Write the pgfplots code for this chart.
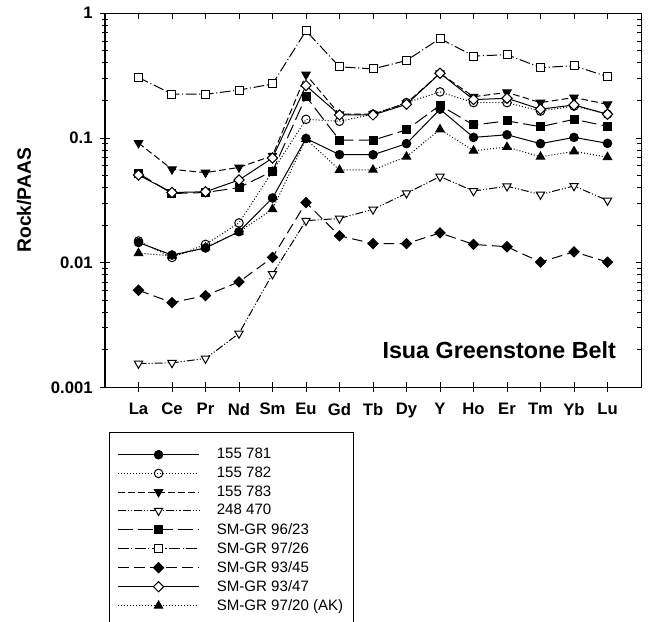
\documentclass[border=0pt]{standalone}
\usepackage{fontspec}
\setmainfont{Liberation Sans}
\usepackage{pgfplots}
\pgfplotsset{compat=1.18}

\pgfplotstableread{
x  a      b      c      d       e      f      g       h      i
0  0.0145 0.0149 0.091  0.00155 0.052  0.305  0.0060  0.0504 0.0119
1  0.0115 0.0110 0.056  0.00157 0.0358 0.225  0.00478 0.0365 0.0113
2  0.0131 0.0140 0.0527 0.0017  0.0365 0.224  0.00544 0.0370 0.0132
3  0.0177 0.0208 0.058  0.0027  0.0400 0.242  0.0070  0.0460 0.0177
4  0.0330 0.054  0.072  0.0081  0.054  0.271  0.0110  0.069  0.0268
5  0.099  0.141  0.322  0.0217  0.215  0.723  0.0303  0.263  0.098
6  0.0735 0.136  0.155  0.0226  0.096  0.372  0.0164  0.153  0.0553
7  0.0733 0.155  0.155  0.0267  0.096  0.358  0.0142  0.153  0.0555
8  0.090  0.192  0.190  0.0360  0.116  0.418  0.0142  0.186  0.0707
9  0.170  0.234  0.330  0.049   0.183  0.627  0.0173  0.330  0.117
10 0.101  0.192  0.214  0.0375  0.127  0.454  0.0140  0.203  0.079
11 0.106  0.192  0.232  0.041   0.137  0.465  0.0134  0.208  0.0845
12 0.090  0.164  0.192  0.0352  0.123  0.367  0.0101  0.170  0.0706
13 0.101  0.180  0.211  0.0412  0.141  0.379  0.0122  0.184  0.078
14 0.0905 0.155  0.186  0.0315  0.124  0.310  0.0101  0.155  0.0701
}\ree

\begin{document}
\begin{tikzpicture}
\useasboundingbox (0,0) rectangle (489.75pt,465.75pt);
\begin{axis}[
  at={(78.75pt,175.3pt)}, anchor=south west,
  scale only axis, width=402pt, height=280.5pt,
  ymode=log, ymin=0.001, ymax=1, xmin=-1, xmax=15,
  xtick={0,...,14},
  xticklabels={La,Ce,Pr,Nd,Sm,Eu,Gd,Tb,Dy,Y,Ho,Er,Tm,Yb,Lu},
  ytick={0.001,0.01,0.1,1}, yticklabels={0.001,0.01,0.1,1},
  minor ytick={0.002,0.003,0.004,0.005,0.006,0.007,0.008,0.009,0.02,0.03,0.04,0.05,0.06,0.07,0.08,0.09,0.2,0.3,0.4,0.5,0.6,0.7,0.8,0.9},
  xtick pos=left, ytick pos=left,
  tick align=center, major tick length=7.5pt, minor tick length=5pt,
  axis line style={line width=0.75pt}, every tick/.style={black, line width=0.6pt},
  tick label style={font=\bfseries\fontsize{12.5}{14}\selectfont},
  xticklabel style={yshift=-4.5pt},
  yticklabel style={xshift=-2pt},
  ylabel={\bfseries\fontsize{14.5}{16}\selectfont Rock/PAAS},
  ylabel style={at={(axis description cs:-0.151,0.5)}, anchor=center},
  every axis plot/.append style={line width=0.75pt, black},
  legend image code/.code={\draw[mark repeat=2,mark phase=2,#1] plot coordinates {(0pt,0pt) (30.4pt,0pt) (60.75pt,0pt)};},
  legend style={at={(axis description cs:0.0075,-0.1195)}, anchor=north west, draw=black, line width=0.75pt,
    font=\fontsize{11.3}{12.5}\selectfont, cells={anchor=west}, inner xsep=6pt, inner ysep=10pt, row sep=0.6pt,
    column sep=11pt},
]
\addplot[solid, mark=*, mark size=3.2pt, mark options={solid}] table[x=x,y=a]{\ree};
\addlegendentry{155 781}
\addplot[dash pattern=on 0.75pt off 1.5pt, mark=o, mark size=3.2pt, mark options={solid, fill=white}] table[x=x,y=b]{\ree};
\addlegendentry{155 782}
\addplot[dash pattern=on 5pt off 2.5pt, mark=triangle*, mark size=3.6pt, mark options={solid, rotate=180}] table[x=x,y=c]{\ree};
\addlegendentry{155 783}
\addplot[dash pattern=on 6pt off 1.5pt on 0.8pt off 1.5pt on 0.8pt off 1.5pt, mark=triangle*, mark size=3.6pt, mark options={solid, rotate=180, fill=white}] table[x=x,y=d]{\ree};
\addlegendentry{248 470}
\addplot[dash pattern=on 11pt off 4pt, mark=square*, mark size=3pt, mark options={solid}] table[x=x,y=e]{\ree};
\addlegendentry{SM-GR 96/23}
\addplot[dash pattern=on 8pt off 2pt on 0.8pt off 2pt, mark=square*, mark size=3pt, mark options={solid, fill=white}] table[x=x,y=f]{\ree};
\addlegendentry{SM-GR 97/26}
\addplot[dash pattern=on 8pt off 4pt, mark=square*, mark size=2.7pt, mark options={solid, rotate=45}] table[x=x,y=g]{\ree};
\addlegendentry{SM-GR 93/45}
\addplot[solid, mark=square*, mark size=2.7pt, mark options={solid, rotate=45, fill=white}] table[x=x,y=h]{\ree};
\addlegendentry{SM-GR 93/47}
\addplot[dash pattern=on 0.75pt off 1.5pt, mark=triangle*, mark size=3.6pt, mark options={solid}] table[x=x,y=i]{\ree};
\addlegendentry{SM-GR 97/20 (AK)}
\node[anchor=base east, font=\bfseries\fontsize{17.5}{20}\selectfont] at (axis description cs:0.962,0.0757) {Isua Greenstone Belt};
\end{axis}
\begin{axis}[
  at={(78.75pt,175.3pt)}, anchor=south west,
  scale only axis, width=402pt, height=280.5pt,
  ymode=log, ymin=0.001, ymax=1, xmin=-1, xmax=15,
  xtick={0,...,14}, ytick={0.001,0.01,0.1,1},
  minor ytick={0.002,0.003,0.004,0.005,0.006,0.007,0.008,0.009,0.02,0.03,0.04,0.05,0.06,0.07,0.08,0.09,0.2,0.3,0.4,0.5,0.6,0.7,0.8,0.9},
  xticklabels={}, yticklabels={},
  xtick pos=right, ytick pos=right,
  tick align=inside, major tick length=4pt, minor tick length=3pt,
  axis line style={line width=0.75pt}, every tick/.style={black, line width=0.6pt},
]
\end{axis}
\end{tikzpicture}
\end{document}
